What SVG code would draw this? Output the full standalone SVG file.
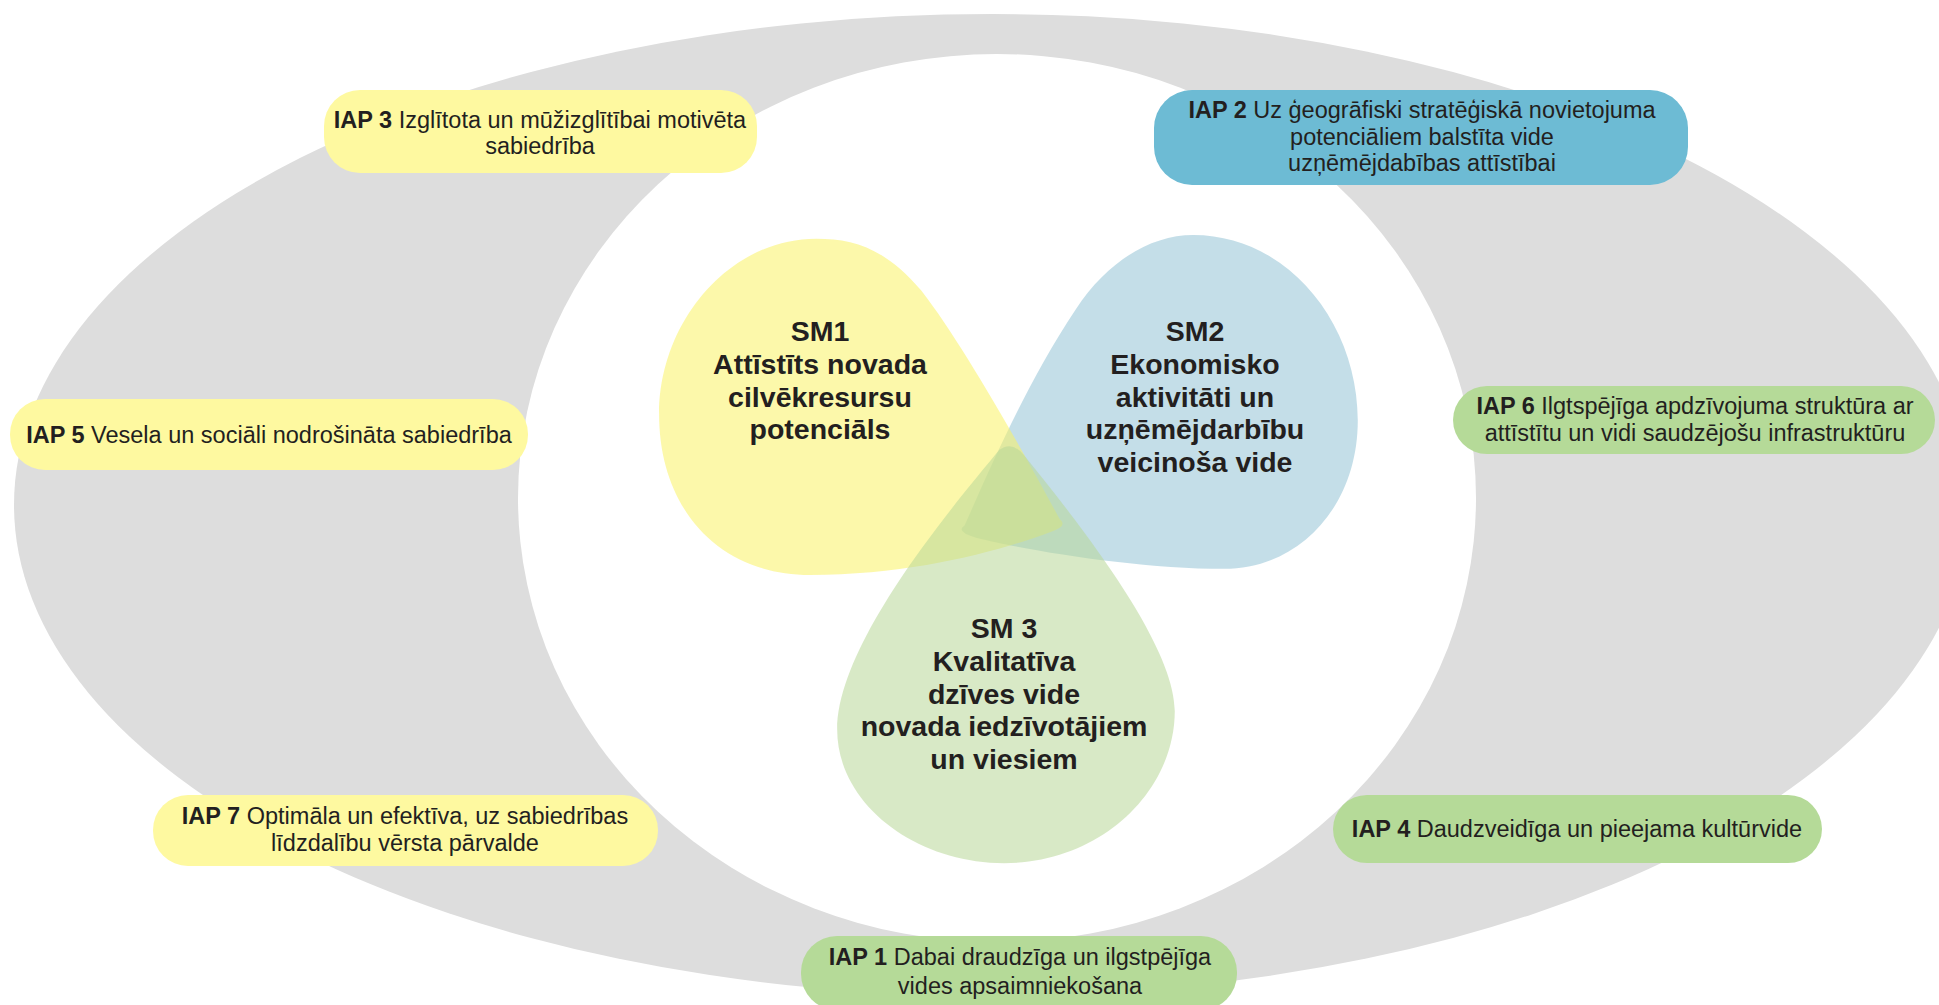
<svg xmlns="http://www.w3.org/2000/svg" width="1939" height="1005" viewBox="0 0 1939 1005">
<style>
.bg{fill:#ffffff}
.ring{fill:#dddddd}
.hole{fill:#ffffff}
.by{fill:#fef9a0}
.bb{fill:#6dbbd4}
.bg2{fill:#b5da98}
.lbl{font-family:"Liberation Sans",Arial,sans-serif;font-size:23.5px;fill:#231f20;text-anchor:middle}
.lbl tspan.b{font-weight:bold}
.sm{font-family:"Liberation Sans",Arial,sans-serif;font-size:28.5px;font-weight:bold;fill:#231f20;text-anchor:middle}
.drop{fill-opacity:0.55}
</style>
<rect class="bg" x="0" y="0" width="1939" height="1005"/>
<g id="background">
<ellipse class="ring" cx="992" cy="505" rx="978" ry="491"/>
<ellipse class="hole" cx="997" cy="498" rx="479" ry="444"/>
</g>
<g id="connectors"/>
<g id="SM2">
<path class="drop" fill="#94c3d5" transform="scale(1.2366)" d="M780,425 C800,380 830,310 870,250 C895,212 930,190 965,190 C1040,190 1098,260 1098,340 C1098,410 1050,460 990,460 C920,460 830,445 790,435 Q772,430 780,425 Z"/>
<text class="sm" x="1195" y="341">SM2</text>
<text class="sm" x="1195" y="374">Ekonomisko</text>
<text class="sm" x="1195" y="407">aktivitāti un</text>
<text class="sm" x="1195" y="439">uzņēmējdarbību</text>
<text class="sm" x="1195" y="472">veicinoša vide</text>
</g>
<g id="SM1">
<path class="drop" fill="#faf265" transform="scale(1.2366)" d="M857,420 C830,370 780,280 745,235 C715,200 690,193 660,193 C590,193 533,260 533,335 C533,410 580,465 655,465 C740,465 810,445 850,430 Q864,425 857,420 Z"/>
<text class="sm" x="820" y="341">SM1</text>
<text class="sm" x="820" y="374">Attīstīts novada</text>
<text class="sm" x="820" y="407">cilvēkresursu</text>
<text class="sm" x="820" y="439">potenciāls</text>
</g>
<g id="SM3">
<path class="drop" fill="#b8d797" transform="scale(1.2366)" d="M808,364 C770,410 677,520 677,590 C677,650 740,698 812,698 C890,698 950,640 950,575 C950,520 870,420 828,368 Q818,356 808,364 Z"/>
<text class="sm" x="1004" y="638">SM 3</text>
<text class="sm" x="1004" y="671">Kvalitatīva</text>
<text class="sm" x="1004" y="704">dzīves vide</text>
<text class="sm" x="1004" y="736">novada iedzīvotājiem</text>
<text class="sm" x="1004" y="769">un viesiem</text>
</g>
<g id="IAP3">
<rect class="by" x="324" y="90" width="433" height="83" rx="36"/>
<text class="lbl" x="540" y="128"><tspan class="b">IAP 3</tspan> Izglītota un mūžizglītībai motivēta</text>
<text class="lbl" x="540" y="154">sabiedrība</text>
</g>
<g id="IAP2">
<rect class="bb" x="1154" y="90" width="534" height="95" rx="38"/>
<text class="lbl" x="1422" y="118"><tspan class="b">IAP 2</tspan> Uz ģeogrāfiski stratēģiskā novietojuma</text>
<text class="lbl" x="1422" y="145">potenciāliem balstīta vide</text>
<text class="lbl" x="1422" y="171">uzņēmējdabības attīstībai</text>
</g>
<g id="IAP5">
<rect class="by" x="10" y="399" width="518" height="71" rx="35"/>
<text class="lbl" x="269" y="443"><tspan class="b">IAP 5</tspan> Vesela un sociāli nodrošināta sabiedrība</text>
</g>
<g id="IAP6">
<rect class="bg2" x="1453" y="386" width="482" height="68" rx="34"/>
<text class="lbl" x="1695" y="414"><tspan class="b">IAP 6</tspan> Ilgtspējīga apdzīvojuma struktūra ar</text>
<text class="lbl" x="1695" y="441">attīstītu un vidi saudzējošu infrastruktūru</text>
</g>
<g id="IAP7">
<rect class="by" x="153" y="795" width="505" height="71" rx="35"/>
<text class="lbl" x="405" y="824"><tspan class="b">IAP 7</tspan> Optimāla un efektīva, uz sabiedrības</text>
<text class="lbl" x="405" y="851">līdzdalību vērsta pārvalde</text>
</g>
<g id="IAP4">
<rect class="bg2" x="1333" y="795" width="489" height="68" rx="34"/>
<text class="lbl" x="1577" y="837"><tspan class="b">IAP 4</tspan> Daudzveidīga un pieejama kultūrvide</text>
</g>
<g id="IAP1">
<rect class="bg2" x="801" y="936" width="436" height="74" rx="36"/>
<text class="lbl" x="1020" y="965"><tspan class="b">IAP 1</tspan> Dabai draudzīga un ilgstpējīga</text>
<text class="lbl" x="1020" y="994">vides apsaimniekošana</text>
</g>
</svg>
